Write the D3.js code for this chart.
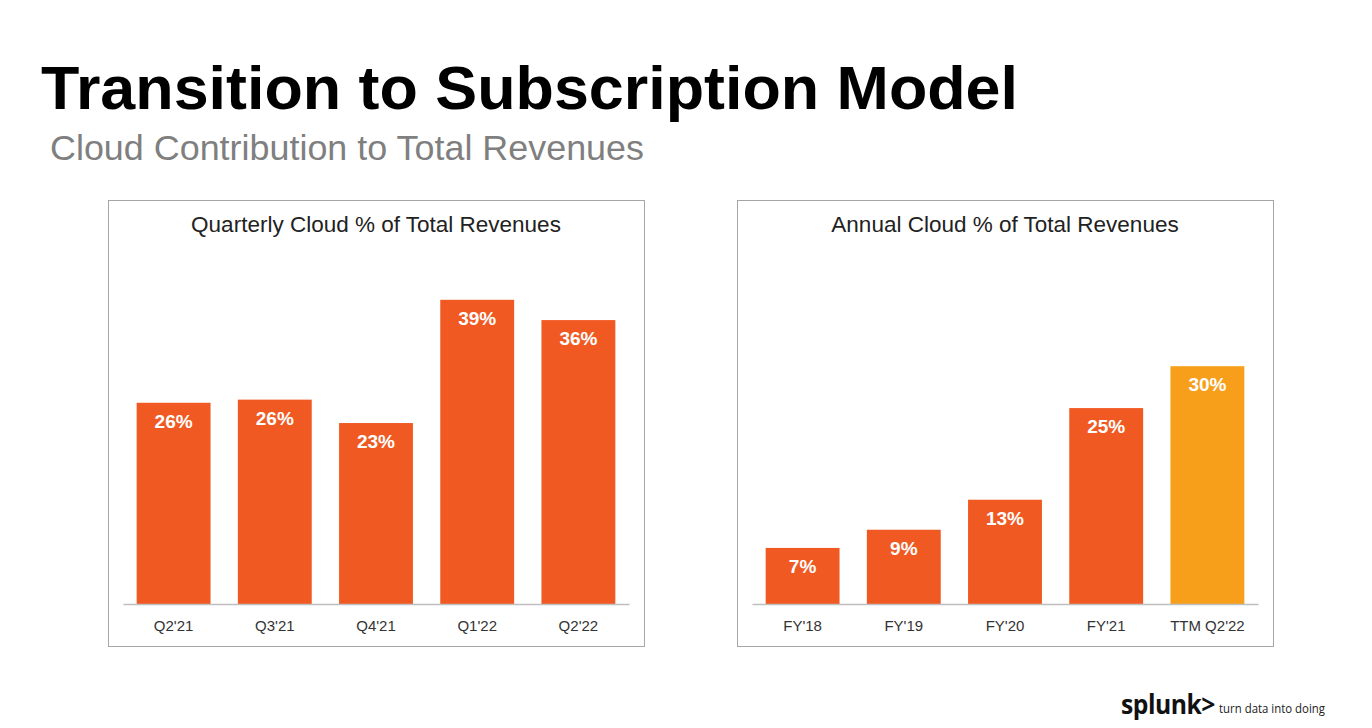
<!DOCTYPE html>
<html><head><meta charset="utf-8">
<script src="https://cdn.jsdelivr.net/npm/d3@7"></script>
<style>html,body{margin:0;padding:0;background:#fff;}svg{display:block;font-family:"Liberation Sans",Arial,sans-serif;}</style>
</head><body>
<svg id="c" width="1372" height="728"></svg>
<script>
const quarterCats = ["Q2'21","Q3'21","Q4'21","Q1'22","Q2'22"];
const quarterVals = [25.8, 26.2, 23.2, 39.0, 36.4];
const annualCats = ["FY'18","FY'19","FY'20","FY'21","TTM Q2'22"];
const annualVals = [7.1, 9.4, 13.2, 24.8, 30.1];
const annualHighlight = ["TTM Q2'22"];

const svg = d3.select("#c");
svg.append("text").attr("x",41).attr("y",109).attr("font-size",62).attr("font-weight","bold").attr("fill","#000")
  .attr("textLength",977).attr("lengthAdjust","spacingAndGlyphs")
  .text("Transition to Subscription Model");
svg.append("text").attr("x",50).attr("y",160).attr("font-size",35).attr("fill","#7f7f7f")
  .attr("textLength",594).attr("lengthAdjust","spacingAndGlyphs")
  .text("Cloud Contribution to Total Revenues");

function panel(cfg){
  const g = svg.append("g");
  g.append("rect").attr("x",cfg.box[0]+0.5).attr("y",200.5).attr("width",cfg.box[1]-cfg.box[0]).attr("height",446)
    .attr("fill","#fff").attr("stroke","#a6a6a6").attr("stroke-width",1);
  g.append("text").attr("x",(cfg.box[0]+cfg.box[1])/2).attr("y",232).attr("text-anchor","middle")
    .attr("font-size",22.5).attr("fill","#222").text(cfg.title);
  const x = d3.scaleBand().domain(cfg.cats).range(cfg.range).paddingInner(0.27).paddingOuter(0.135);
  const y = d3.scaleLinear().domain([0,50]).range([604, 604-50*cfg.pxPer]);
  const data = cfg.cats.map((c,i)=>({c, v:cfg.vals[i]}));
  g.selectAll("rect.bar").data(data).join("rect").attr("class","bar")
    .attr("x",d=>x(d.c)).attr("width",x.bandwidth())
    .attr("y",d=>y(d.v)).attr("height",d=>y(0)-y(d.v))
    .attr("fill",d=>cfg.highlight.includes(d.c)?"#F79E1B":"#F05A22");
  g.selectAll("text.val").data(data).join("text").attr("class","val")
    .attr("x",d=>x(d.c)+x.bandwidth()/2).attr("y",d=>y(d.v)+25)
    .attr("text-anchor","middle").attr("font-size",19).attr("font-weight","bold").attr("fill","#fff")
    .text(d=>Math.round(d.v)+"%");
  const ax = g.append("g").attr("transform","translate(0,604)")
    .call(d3.axisBottom(x).tickSize(0).tickPadding(16));
  ax.select(".domain").attr("stroke","#bfbfbf").attr("stroke-width",1.5);
  ax.selectAll("text").attr("font-size",15).attr("fill","#333").attr("font-family","'Liberation Sans',Arial,sans-serif");
}
panel({box:[108,644], title:"Quarterly Cloud % of Total Revenues", cats:quarterCats, vals:quarterVals,
  range:[123,629], pxPer:7.8, highlight:[]});
panel({box:[737,1273], title:"Annual Cloud % of Total Revenues", cats:annualCats, vals:annualVals,
  range:[752,1258], pxPer:7.9, highlight:annualHighlight});

const logo = svg.append("g");
logo.append("text").attr("x",1121).attr("y",714).attr("font-size",26).attr("font-weight","bold").attr("fill","#111")
  .attr("font-family","'Open Sans','DejaVu Sans',sans-serif").attr("letter-spacing",-0.5)
  .attr("textLength",94).attr("lengthAdjust","spacingAndGlyphs").text("splunk>");
logo.append("text").attr("x",1219).attr("y",713).attr("font-size",12).attr("fill","#222")
  .attr("font-family","'Open Sans','DejaVu Sans',sans-serif")
  .attr("textLength",106).attr("lengthAdjust","spacingAndGlyphs").text("turn data into doing");
</script>
</body></html>
